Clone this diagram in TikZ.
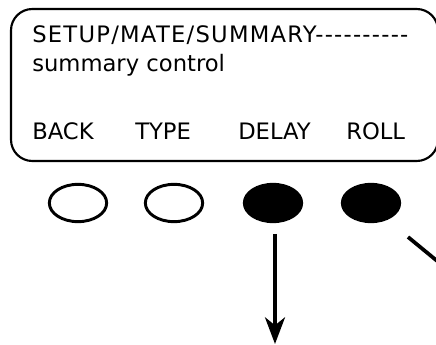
\documentclass[tikz,border=0pt]{standalone}
\usepackage{fontspec}
\setmainfont{DejaVu Sans}
\usetikzlibrary{arrows.meta, positioning, calc, shapes.geometric}
\tikzset{
	lcdtext/.style={font=\fontsize{17}{20}\selectfont, anchor=base west, inner sep=0pt}
}
\tikzset{
	keyoff/.style={draw, line width=2.2pt, ellipse, minimum width=43pt, minimum height=28pt, inner sep=0pt},
	keyon/.style={keyoff, fill=black}
}
\begin{document}
\begin{tikzpicture}[x=0.75pt, y=-0.75pt, >={Stealth[length=20pt, width=15pt, inset=6pt]}]
      \useasboundingbox (0,0) rectangle (436,345);
      \clip (0,0) rectangle (436,345);
      % display frame
      \draw[line width=1.6pt, rounded corners=16pt] (11,9) rectangle (438,161);
      \node[lcdtext] (title) at (32,43) {\addfontfeature{LetterSpace=5.5}SETUP/MATE/SUMMARY-{}-{}-{}-{}-{}-{}-{}-{}-{}-};
      \node[lcdtext] (sub) at (32,72) {summary control};
      \node[lcdtext] (back) at (32,140) {BACK};
      \node[lcdtext] (type) at (135,140) {TYPE};
      \node[lcdtext] (delay) at (238,140) {DELAY};
      \node[lcdtext] (roll) at (346,140) {ROLL};
      % soft keys
      \node[keyoff] (k1) at (78,203) {};
      \node[keyoff] (k2) at (174,203) {};
      \node[keyon] (k3) at (273,203) {};
      \node[keyon] (k4) at (371,203) {};
      \coordinate (delayout) at (275,344);
      \coordinate (rollin) at ($(k4)+(37,34)$);
      \coordinate (rollout) at ($(rollin)+(62,51)$);
      \draw[line width=2.8pt, ->, shorten <=8pt] (k3.south -| delayout) -- (delayout);
      \draw[line width=2.8pt] (rollin) -- (rollout);
    \end{tikzpicture}
\end{document}
